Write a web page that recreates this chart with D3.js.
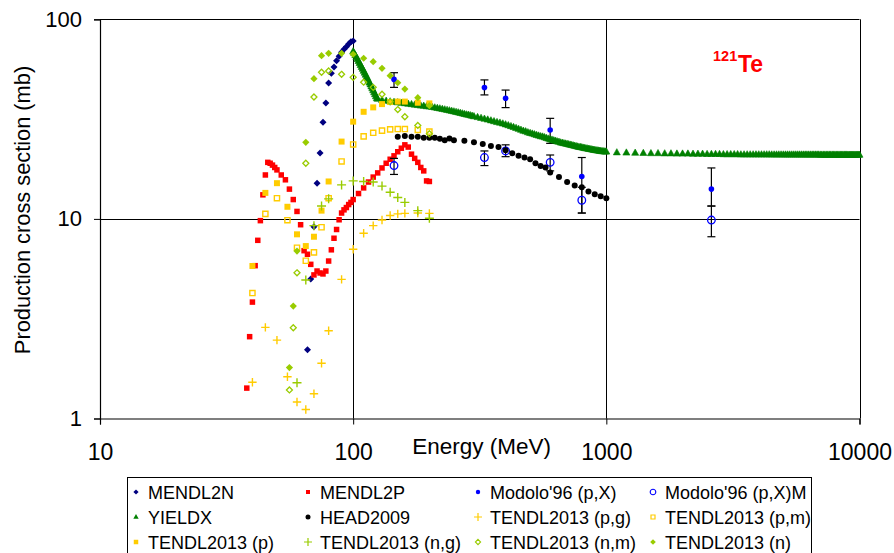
<!DOCTYPE html>
<html><head><meta charset="utf-8">
<script src="https://cdn.jsdelivr.net/npm/d3@7"></script>
<style>body{margin:0;background:#fff}svg{display:block;font-family:"Liberation Sans",Arial,sans-serif}</style>
</head><body><svg id="c" width="894" height="553"></svg>
<script>
// ---------- data ----------
const xTicks = [10, 100, 1000, 10000];
const yTicks = [1, 10, 100];

const mendl2nE = [66,68,70,72,74,76,78,80,82,84,86,88,90,92,94,96,98,100];
const mendl2nV = [2.21,5.0,9.14,15.1,21.4,30.5,38.1,47.9,53.7,57.7,62.0,65.3,68.4,70.7,72.9,75.2,77.2,77.8];

const mendl2pE = [38,39,40,41,42,43,44,45,46,47,48,49,50,52,54,56,58,60,62,64,66,68,70,72,74,76,78,80,82,84,86,88,90,92,94,96,98,100,
  105,110,115,120,125,130,135,140,145,150,155,160,165,170,175,180,185,190,195,200];
const mendl2pV = [1.42,2.57,3.83,5.83,7.81,9.80,13.2,16.6,19.2,19.0,18.6,18.1,17.6,16.6,15.7,14.1,12.5,10.9,9.35,6.93,6.65,5.92,5.24,5.48,5.36,5.30,5.48,6.15,7.0,8.0,8.85,9.9,10.7,11.1,11.4,11.8,12.1,12.5,
  13.4,14.3,15.3,16.2,17.0,18.0,19.0,19.9,20.7,21.7,22.6,23.5,22.9,21.1,20.1,19.2,18.1,17.4,15.5,15.4];

const modoloE  = [145,330,400,600,800,2600];
const modoloV  = [50.0,45.5,40.2,27.9,16.3,14.1];
const modoloLo = [45.6,41.8,36.1,23.9,10.7,11.6];
const modoloHi = [54.0,49.7,44.2,31.9,20.3,18.0];

const modoloME  = [145,330,400,600,800,2600];
const modoloMV  = [18.5,20.3,21.9,19.2,12.4,9.87];
const modoloMLo = [16.7,18.5,20.5,17.4,10.7,8.14];
const modoloMHi = [20.1,21.9,23.5,20.9,14.4,11.6];

const yieldxE = [...d3.range(100,125,1), ...d3.range(125,300,5), ...d3.range(300,1000,10), ...d3.range(1000,10001,100)];
const yieldxV = [
  69.0,67.5,66.0,64.5,63.1,61.7,60.3,58.9,57.6,56.4,55.1,53.9,52.7,51.5,50.4,49.2,48.1,47.1,46.0,45.0,44.0,43.0,42.1,41.1,40.2,
  39.9,39.4,39.0,38.7,38.5,38.3,38.1,37.9,37.7,37.5,37.3,37.1,36.9,36.8,36.6,36.5,36.3,36.1,35.9,35.7,35.5,35.3,35.1,34.9,34.7,34.5,34.3,34.1,33.9,33.7,33.5,33.3,33.2,33.0,32.8,
  32.6,32.3,32.0,31.7,31.4,31.1,30.8,30.5,30.3,30.0,29.7,29.4,29.1,28.8,28.5,28.2,27.9,27.6,27.4,27.1,
  26.9,26.7,26.5,26.3,26.1,25.9,25.8,25.6,25.4,25.2,25.0,24.9,24.7,24.6,24.4,24.3,24.1,24.0,23.9,23.8,
  23.7,23.6,23.5,23.4,23.3,23.2,23.1,23.0,22.9,22.85,22.8,22.7,22.6,22.55,22.5,22.4,22.35,22.3,22.2,22.15,
  22.1,22.05,22.0,21.95,21.9,21.85,21.8,21.8,21.75,21.7,
  21.7,21.5,21.45,21.4,21.35,21.3,21.3,21.25,21.25,21.2,
  21.2,21.2,21.15,21.15,21.15,21.1,21.1,21.1,21.1,21.05,
  21.05,21.05,21.05,21.05,21.0,21.0,21.0,21.0,21.0,21.0,
  21.0,21.0,21.0,21.0,21.0,20.98,20.98,20.98,20.98,20.98,
  20.97,20.97,20.97,20.97,20.97,20.97,20.97,20.97,20.97,20.97,
  20.96,20.96,20.96,20.96,20.96,20.96,20.96,20.96,20.96,20.96,
  20.95,20.95,20.95,20.95,20.95,20.95,20.95,20.95,20.95,20.95,
  20.94,20.94,20.94,20.94,20.94,20.94,20.94,20.94,20.94,20.94,
  20.93,20.93,20.93,20.93,20.93,20.93,20.93,20.93,20.93,20.93,
  20.92];

const headE = [150,160,170,180,190,200,210,220,230,240,250,275,300,325,350,375,400,425,450,475,500,525,550,575,600,650,700,750,800,850,900,950,1000];
const headV = [25.8,26.0,25.8,25.8,25.5,25.5,25.5,25.2,24.8,25.3,24.8,24.6,24.2,23.7,23.2,22.9,22.1,21.3,20.7,20.3,19.9,19.0,18.4,18.1,17.1,16.2,15.3,14.7,14.4,13.7,13.3,13.0,12.7];

const tendlPE = [40,45,50,55,60,65,70,75,80,90,100,110,120,130,140,150,160,180,200];
const tendlPgV = [1.52,2.86,2.47,1.62,1.21,1.11,1.33,1.89,2.75,4.98,7.04,8.47,9.25,9.87,10.4,10.6,10.66,10.7,10.66];
const tendlPmV = [4.25,10.6,12.7,9.85,7.17,6.17,6.80,9.08,12.7,19.4,23.6,25.9,27.0,27.7,28.1,28.2,28.2,27.9,27.4];
const tendlPV  = [5.81,13.5,15.1,11.5,8.37,7.31,8.14,11.0,15.4,24.4,30.7,34.4,36.2,37.6,38.5,38.7,38.7,38.2,37.9];

const tendlNgE = [60,65,70,75,80,90,100,110,120,130,140,150,160,180,200];
const tendlNgV = [1.51,4.94,9.25,11.6,12.6,14.8,15.5,15.4,15.3,14.6,13.6,12.8,12.1,11.0,10.07];

const tendlNE  = [56,58,60,65,70,75,80,90,100,110,120,130,140,150,160,180,200];
const tendlNmV = [1.39,2.85,5.37,19.0,40.8,54.3,55.1,53.0,51.2,48.4,45.6,42.1,38.6,35.3,32.5,29.4,26.7];
const tendlNV  = [1.80,3.66,6.90,24.2,50.4,65.7,67.5,67.5,66.8,63.8,61.3,56.8,52.2,48.1,44.7,40.5,36.9];

const legendNames = ["MENDL2N","MENDL2P","Modolo'96 (p,X)","Modolo'96 (p,X)M",
  "YIELDX","HEAD2009","TENDL2013 (p,g)","TENDL2013 (p,m)",
  "TENDL2013 (p)","TENDL2013 (n,g)","TENDL2013 (n,m)","TENDL2013 (n)"];

// ---------- layout ----------
const svg = d3.select("#c");
const x = d3.scaleLog().domain([10,10000]).range([100,859.5]);
const y = d3.scaleLog().domain([1,100]).range([418.5,19.3]);

const GOLD="#FFCC00", LIME="#99CC00", NAVY="#000080", RED="#FF0000", BLUE="#0000FF", DGREEN="#008000";

const diamond = r => `M0,${-r}L${r},0L0,${r}L${-r},0Z`;
const square = s => `M${-s/2},${-s/2}h${s}v${s}h${-s}Z`;
const tri = r => `M0,${-r}L${r*0.9},${r*0.6}L${-r*0.9},${r*0.6}Z`;
const plus = r => `M${-r},0H${r}M0,${-r}V${r}`;
const circ = r => `M${r},0A${r},${r} 0 1,1 ${-r},0A${r},${r} 0 1,1 ${r},0Z`;

const styles = [
  {d:diamond(3.5), fill:NAVY, stroke:"none"},
  {d:square(5.5), fill:RED, stroke:"none"},
  {d:circ(2.8), fill:BLUE, stroke:"none"},
  {d:circ(3.8), fill:"none", stroke:BLUE, sw:1.3},
  {d:tri(3.9), fill:DGREEN, stroke:DGREEN, sw:0.6},
  {d:circ(3), fill:"#000", stroke:"none"},
  {d:plus(4.2), fill:"none", stroke:GOLD, sw:1.4},
  {d:square(5.2), fill:"none", stroke:GOLD, sw:1.4},
  {d:square(6), fill:GOLD, stroke:"none"},
  {d:plus(4.5), fill:"none", stroke:LIME, sw:1.4},
  {d:diamond(3), fill:"none", stroke:LIME, sw:1.3},
  {d:diamond(3.6), fill:LIME, stroke:"none"}
];
const legStyles = [
  {d:diamond(2.6), fill:NAVY, stroke:"none"},
  {d:square(4), fill:RED, stroke:"none"},
  {d:circ(2.2), fill:BLUE, stroke:"none"},
  {d:circ(2.8), fill:"none", stroke:BLUE, sw:1.1},
  {d:tri(3), fill:DGREEN, stroke:"none"},
  {d:circ(2.5), fill:"#000", stroke:"none"},
  {d:plus(4), fill:"none", stroke:GOLD, sw:1.2},
  {d:square(4), fill:"none", stroke:GOLD, sw:1.2},
  {d:square(4.5), fill:GOLD, stroke:"none"},
  {d:plus(4), fill:"none", stroke:LIME, sw:1.2},
  {d:diamond(2.6), fill:"none", stroke:LIME, sw:1.1},
  {d:diamond(2.8), fill:LIME, stroke:"none"}
];

// gridlines
const grid = svg.append("g").attr("stroke","#000").attr("stroke-width",1);
[10,100].forEach(v => grid.append("line").attr("x1",x(10)).attr("x2",x(10000)).attr("y1",Math.round(y(v))+0.5).attr("y2",Math.round(y(v))+0.5));
[100,1000,10000].forEach(v => grid.append("line").attr("y1",y(100)).attr("y2",y(1)).attr("x1",Math.round(x(v))+0.5).attr("x2",Math.round(x(v))+0.5));

// axes
const yAxis = svg.append("g").attr("transform",`translate(${x(10)},0)`)
  .call(d3.axisLeft(y).tickValues(yTicks).tickFormat(d3.format("d")).tickSize(6).tickPadding(12));
yAxis.selectAll("text").attr("font-size",22).attr("font-family","Liberation Sans, Arial, sans-serif").attr("fill","#000");
const xAxis = svg.append("g").attr("transform",`translate(0,${y(1)})`)
  .call(d3.axisBottom(x).tickValues(xTicks).tickFormat(d3.format("d")).tickSize(6).tickPadding(19));
xAxis.selectAll("text").attr("font-size",23).attr("font-family","Liberation Sans, Arial, sans-serif").attr("fill","#000");
svg.selectAll(".domain").attr("stroke","#000").attr("stroke-width",1.2);
svg.selectAll(".tick line").attr("stroke","#000");

// axis titles
svg.append("text").attr("x",481.7).attr("y",454.3).attr("text-anchor","middle").attr("font-size",22.5).text("Energy (MeV)");
svg.append("text").attr("transform","translate(30,210) rotate(-90)").attr("text-anchor","middle").attr("font-size",21.8).text("Production cross section (mb)");

// title label
const lab = svg.append("text").attr("fill","#FF0000").attr("font-weight","bold");
lab.append("tspan").attr("x",713).attr("y",60.7).attr("font-size",14.5).text("121");
lab.append("tspan").attr("x",738).attr("y",71.7).attr("font-size",23).text("Te");

// series
const plot = svg.append("g");
function series(E, V, st){
  plot.append("g").selectAll("path").data(E.map((e,i)=>[e,V[i]])).join("path")
    .attr("transform",d=>`translate(${x(d[0])},${y(d[1])})`)
    .attr("d",st.d).attr("fill",st.fill).attr("stroke",st.stroke).attr("stroke-width",st.sw||0);
}
function errbars(E, Lo, Hi){
  const g = plot.append("g").attr("stroke","#000").attr("stroke-width",1.2);
  E.forEach((e,i)=>{
    const cx = x(e);
    g.append("line").attr("x1",cx).attr("x2",cx).attr("y1",y(Lo[i])).attr("y2",y(Hi[i]));
    g.append("line").attr("x1",cx-4).attr("x2",cx+4).attr("y1",y(Lo[i])).attr("y2",y(Lo[i]));
    g.append("line").attr("x1",cx-4).attr("x2",cx+4).attr("y1",y(Hi[i])).attr("y2",y(Hi[i]));
  });
}
series(mendl2nE, mendl2nV, styles[0]);
series(mendl2pE, mendl2pV, styles[1]);
errbars(modoloE, modoloLo, modoloHi);
series(modoloE, modoloV, styles[2]);
errbars(modoloME, modoloMLo, modoloMHi);
series(modoloME, modoloMV, styles[3]);
series(yieldxE, yieldxV, styles[4]);
series(headE, headV, styles[5]);
series(tendlPE, tendlPgV, styles[6]);
series(tendlPE, tendlPmV, styles[7]);
series(tendlPE, tendlPV, styles[8]);
series(tendlNgE, tendlNgV, styles[9]);
series(tendlNE, tendlNmV, styles[10]);
series(tendlNE, tendlNV, styles[11]);

// legend
const leg = svg.append("g");
leg.append("rect").attr("x",127.5).attr("y",477.5).attr("width",684).attr("height",90)
  .attr("fill","#fff").attr("stroke","#000").attr("stroke-width",1);
const colX = [136,308,478,653], rowY = [492,517,542];
legendNames.forEach((n,i)=>{
  const cx = colX[i%4], cy = rowY[Math.floor(i/4)], st = legStyles[i];
  leg.append("path").attr("transform",`translate(${cx},${cy})`).attr("d",st.d)
    .attr("fill",st.fill).attr("stroke",st.stroke).attr("stroke-width",st.sw||0);
  leg.append("text").attr("x",cx+12).attr("y",cy+6.5).attr("font-size",18).text(n);
});
</script></body></html>
